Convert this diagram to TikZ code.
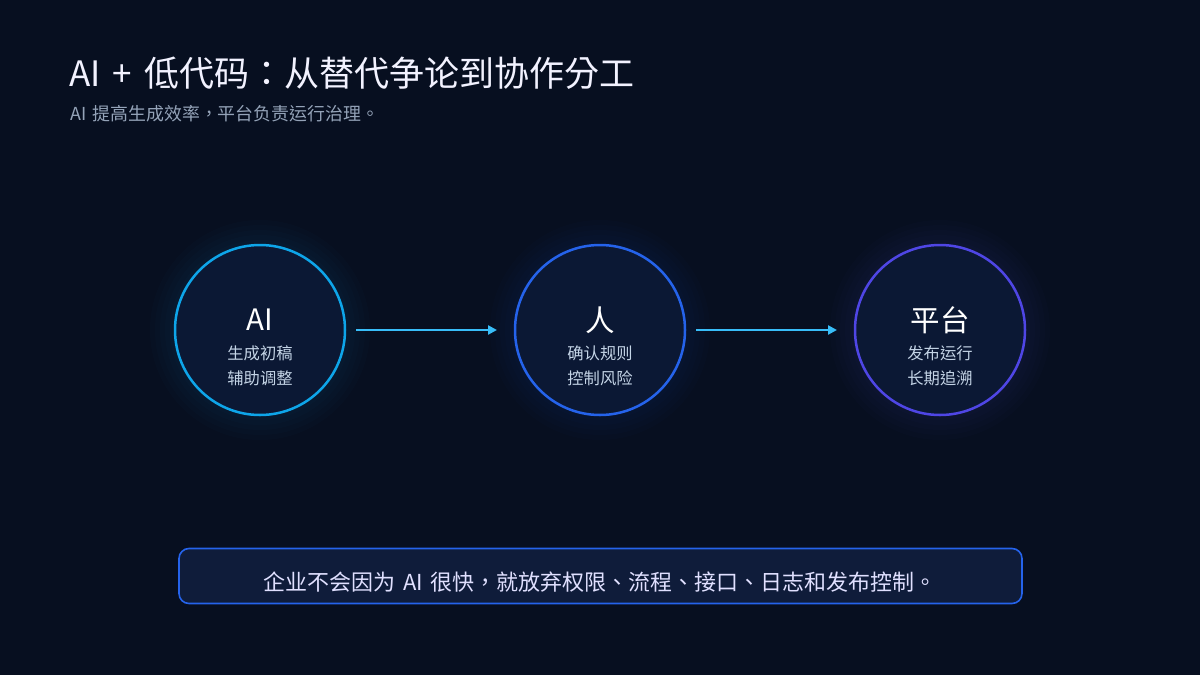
\documentclass[tikz,border=0pt]{standalone}
\usepackage{fontspec}
\setmainfont[WordSpace=1.5]{Noto Sans CJK TC}
\usetikzlibrary{arrows.meta}
\definecolor{bg}{HTML}{070F20}
\definecolor{disc}{HTML}{0B1834}
\definecolor{aiblue}{HTML}{0EA5E9}
\definecolor{renblue}{HTML}{2563EB}
\definecolor{ptviolet}{HTML}{4F46E5}
\definecolor{flow}{HTML}{38BDF8}
\definecolor{notefill}{HTML}{0F1C3A}
\colorlet{headtext}{white!95!blue}
\definecolor{subtext}{HTML}{94A3B8}
\definecolor{disctext}{HTML}{C4D4E6}
\colorlet{notetext}{white!88!blue}
\newcommand{\bigtitle}{AI + 低代码：从替代争论到协作分工}
\newcommand{\subtitle}{AI 提高生成效率，平台负责运行治理。}
\newcommand{\notetxt}{企业不会因为 AI 很快，就放弃权限、流程、接口、日志和发布控制。}

\begin{document}
\begin{tikzpicture}[x=1pt,y=-1pt,
    role/.style={circle,minimum size=170pt,inner sep=0pt,outer sep=0pt,%
                 line width=2.5pt,fill=disc,draw=#1},
    rolename/.style={text=white,font=\fontsize{29.5}{33}\selectfont},
    duty/.style={text=disctext,font=\fontsize{16.3}{19}\selectfont},
    flowarrow/.style={draw=flow,line width=2.5pt,-{Triangle[length=9pt,width=9pt]},%
                      shorten <=11pt,shorten >=18pt}
]

% background and frame
\fill[bg] (0,0) rectangle (1200,675);
\useasboundingbox (0,0) rectangle (1200,675);

\node[anchor=base west,text=headtext,font=\fontsize{35}{41}\selectfont]
    (title) at (66,86) {\bigtitle};
\node[anchor=base west,text=subtext,font=\fontsize{17.9}{21}\selectfont]
    (subtitle) at (67,120) {\subtitle};

% soft halos
\foreach \x/\c in {260/aiblue,600/renblue,940/ptviolet}
  \foreach \r in {90,95,...,112}
    \fill[\c,fill opacity=0.02] (\x,330) circle (\r);

\node[role=aiblue] (ai) at (260,330) {};
\node[role=renblue] (ren) at (600,330) {};
\node[role=ptviolet] (pt) at (940,330) {};

\node[rolename] (ai-n) at ([yshift=10pt]ai.center) {AI};
\node[duty] (ai-a) at ([yshift=-23pt]ai.center) {生成初稿};
\node[duty] (ai-b) at ([yshift=-48pt]ai.center) {辅助调整};

\node[rolename] (ren-n) at ([yshift=10pt]ren.center) {人};
\node[duty] (ren-a) at ([yshift=-23pt]ren.center) {确认规则};
\node[duty] (ren-b) at ([yshift=-48pt]ren.center) {控制风险};

\node[rolename] (pt-n) at ([yshift=10pt]pt.center) {平台};
\node[duty] (pt-a) at ([yshift=-23pt]pt.center) {发布运行};
\node[duty] (pt-b) at ([yshift=-48pt]pt.center) {长期追溯};

\draw[flowarrow] (ai.east) -- (ren.west);
\draw[flowarrow] (ren.east) -- (pt.west);

% bottom note
\node[draw=renblue,line width=1.6pt,fill=notefill,rounded corners=10pt,%
      minimum width=843pt,minimum height=55pt,inner sep=0pt]
    (note) at (600.5,576) {};
\node[anchor=base,text=notetext,font=\fontsize{22}{25}\selectfont]
    (note-t) at (600,590) {\notetxt};

\end{tikzpicture}
\end{document}
